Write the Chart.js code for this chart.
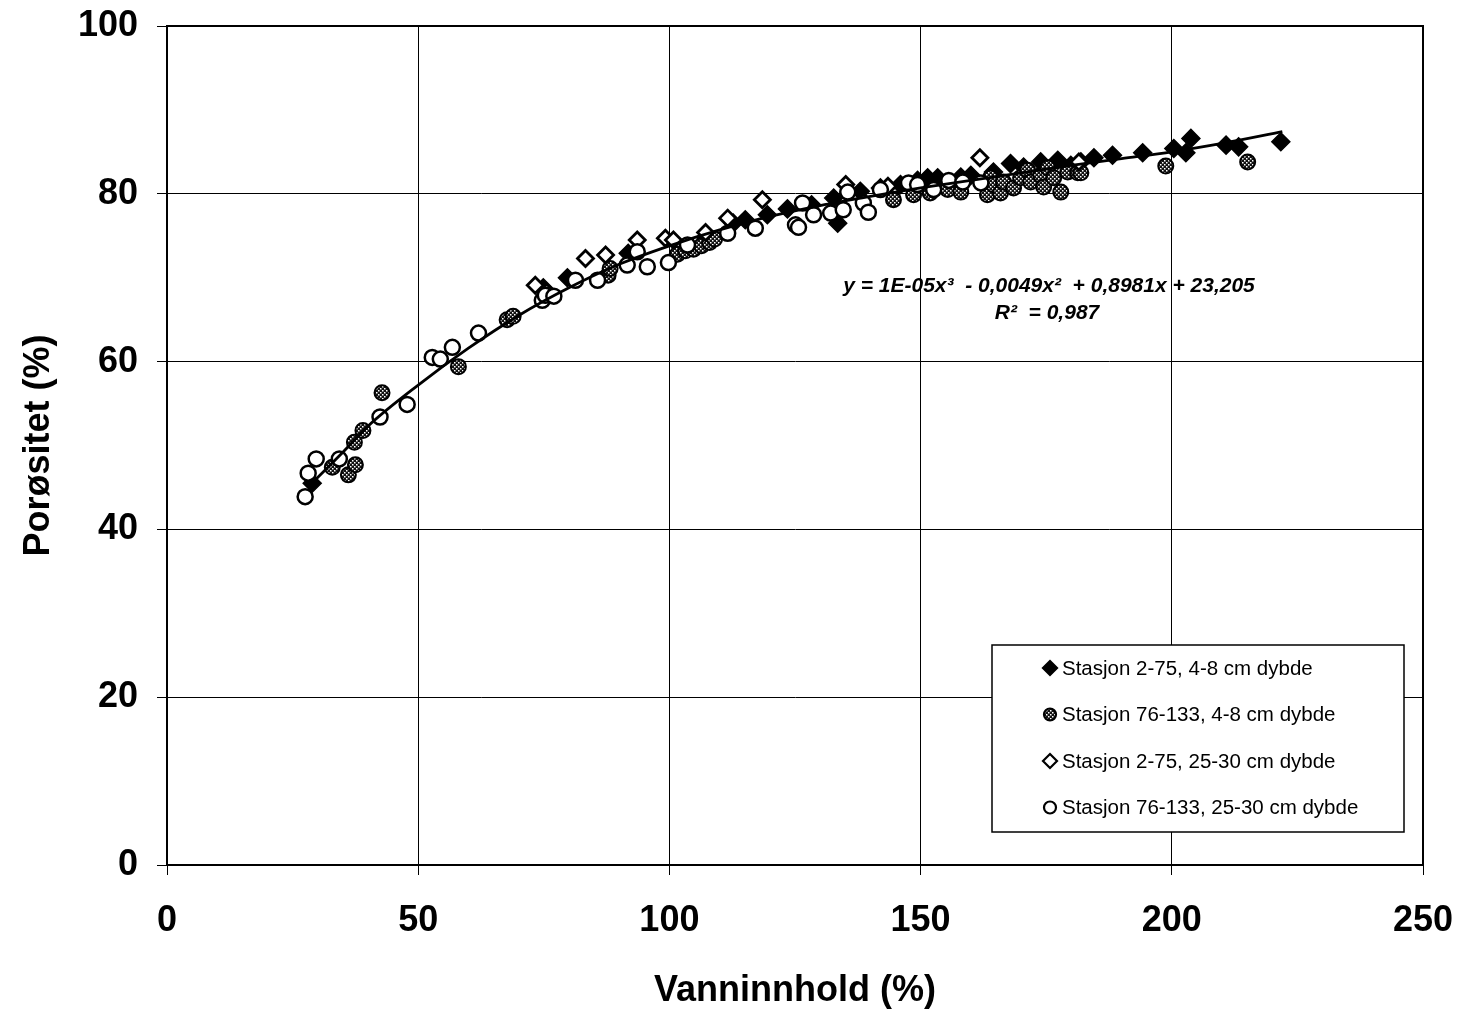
<!DOCTYPE html>
<html>
<head>
<meta charset="utf-8">
<script src="https://cdn.jsdelivr.net/npm/chart.js@4.4.1/dist/chart.umd.min.js"></script>
<style>
  html, body { margin: 0; padding: 0; background: #fff; }
  canvas { display: block; }
</style>
</head>
<body>
<canvas id="chart" width="1462" height="1013"></canvas>
<script>
// Vanninnhold (%) vs Porøsitet (%)
const st2_75_shallow = [
  [28.9, 45.5], [74.9, 68.8], [79.7, 70.0], [91.8, 72.9], [107.2, 74.8], [112.7, 76.5],
  [115.1, 76.9], [119.5, 77.5], [123.5, 78.2], [128.3, 78.7], [132.7, 79.5], [133.5, 76.5],
  [138.0, 80.3], [142.0, 80.7], [146.0, 81.1], [149.4, 81.6], [151.4, 81.9], [153.4, 81.9],
  [158.0, 82.0], [160.0, 82.2], [164.5, 82.6], [167.9, 83.6], [170.5, 83.2], [173.9, 83.8],
  [177.3, 84.0], [179.9, 83.4], [181.9, 83.8], [184.5, 84.3], [188.2, 84.6], [194.2, 84.9],
  [200.4, 85.4], [202.8, 84.9], [203.8, 86.6], [210.8, 85.8], [213.3, 85.6], [221.7, 86.2],
];
const st76_133_shallow = [
  [32.9, 47.4], [36.1, 46.5], [37.5, 47.7], [37.3, 50.4], [39.0, 51.8], [42.8, 56.3],
  [58.0, 59.4], [67.7, 65.0], [68.9, 65.4], [75.3, 68.2], [87.8, 70.3], [88.2, 71.1],
  [101.6, 72.8], [103.2, 73.2], [104.8, 73.4], [106.4, 73.8], [108.0, 74.2], [109.0, 74.6],
  [144.6, 79.3], [148.6, 79.9], [151.9, 80.1], [155.4, 80.5], [158.0, 80.2], [163.3, 79.9],
  [163.9, 81.9], [164.5, 81.1], [165.9, 80.1], [166.5, 81.4], [168.5, 80.7], [169.9, 81.9],
  [171.3, 82.8], [171.9, 81.4], [173.9, 82.2], [174.5, 80.8], [175.3, 83.1], [176.5, 81.9],
  [177.9, 80.2], [179.3, 82.6], [181.3, 82.5], [181.9, 82.5], [198.8, 83.3], [215.1, 83.8],
];
const st2_75_deep = [
  [73.3, 69.1], [83.3, 72.3], [87.3, 72.7], [93.6, 74.5], [99.2, 74.7], [100.8, 74.5],
  [107.2, 75.4], [111.6, 77.1], [118.5, 79.3], [135.1, 81.1], [143.5, 80.9], [161.8, 84.3],
  [181.5, 83.8],
];
const st76_133_deep = [
  [27.5, 43.9], [28.1, 46.7], [29.7, 48.4], [34.3, 48.4], [42.4, 53.4], [47.8, 54.9],
  [52.8, 60.5], [54.4, 60.3], [56.8, 61.7], [62.0, 63.4], [74.7, 67.3], [75.3, 67.9],
  [77.0, 67.8], [81.3, 69.7], [85.7, 69.7], [91.6, 71.5], [93.6, 73.1], [95.6, 71.3],
  [99.8, 71.8], [103.6, 73.9], [111.6, 75.3], [117.1, 75.9], [125.1, 76.3], [125.7, 76.0],
  [126.5, 78.9], [128.7, 77.5], [132.1, 77.7], [134.6, 78.1], [135.5, 80.2], [138.6, 78.9],
  [139.6, 77.8], [142.0, 80.5], [147.6, 81.3], [149.4, 81.1], [152.6, 80.5], [155.6, 81.6],
  [158.4, 81.4], [162.0, 81.3],
];
// trend curve
const trend = [
  [28, 45.0], [35, 49.2], [40, 52.3], [50, 57.2], [60, 61.6], [70, 65.5], [80, 68.8],
  [90, 71.6], [100, 73.8], [110, 75.7], [120, 77.3], [130, 78.6], [140, 79.7], [150, 80.7],
  [160, 81.6], [170, 82.5], [180, 83.4], [190, 84.2], [200, 85.0], [210, 86.0], [222, 87.4],
];
const series_labels = [
  "Stasjon 2-75, 4-8 cm dybde",
  "Stasjon 76-133, 4-8 cm dybde",
  "Stasjon 2-75, 25-30 cm dybde",
  "Stasjon 76-133, 25-30 cm dybde",
];
const equation_lines = ["y = 1E-05x\u00b3  - 0,0049x\u00b2  + 0,8981x + 23,205", "R\u00b2  = 0,987"];
const x_ticks = [0, 50, 100, 150, 200, 250];
const y_ticks = [0, 20, 40, 60, 80, 100];

const FONT = "'Liberation Sans', Arial, sans-serif";
Chart.defaults.font.family = FONT;
Chart.defaults.color = "#000";

function dotted_fill() {
  const tile = document.createElement("canvas");
  tile.width = 4;
  tile.height = 4;
  const c = tile.getContext("2d");
  c.fillStyle = "#111";
  c.fillRect(0, 0, 4, 4);
  c.fillStyle = "#fff";
  c.fillRect(0, 0, 1.5, 1.5);
  c.fillRect(2, 2, 1.5, 1.5);
  return c.createPattern(tile, "repeat");
}

const to_xy = (arr) => arr.map(([x, y]) => ({ x, y }));

const frame_plugin = {
  id: "frame",
  afterDatasetsDraw(chart) {
    const { ctx, chartArea: a } = chart;
    ctx.save();
    ctx.strokeStyle = "#000";
    ctx.lineWidth = 2;
    ctx.strokeRect(a.left, a.top, a.right - a.left, a.bottom - a.top);

    // trendline equation
    ctx.font = "italic bold 21px " + FONT;
    ctx.textAlign = "center";
    ctx.textBaseline = "middle";
    ctx.fillStyle = "#000";
    ctx.fillText(equation_lines[0], 1049, 286);
    ctx.fillText(equation_lines[1], 1047, 313);

    // legend box
    const box = { left: 992, top: 645, right: 1404, bottom: 832 };
    ctx.fillStyle = "#fff";
    ctx.fillRect(box.left, box.top, box.right - box.left, box.bottom - box.top);
    ctx.lineWidth = 1.5;
    ctx.strokeRect(box.left, box.top, box.right - box.left, box.bottom - box.top);
    ctx.font = "20.5px " + FONT;
    ctx.textAlign = "left";
    series_labels.forEach((label, i) => {
      const ds = chart.data.datasets[i];
      const y = 668 + i * 46.5;
      const x = 1050;
      ctx.beginPath();
      if (ds.pointStyle === "rectRot") {
        const r = 7;
        ctx.moveTo(x, y - r);
        ctx.lineTo(x + r, y);
        ctx.lineTo(x, y + r);
        ctx.lineTo(x - r, y);
        ctx.closePath();
      } else {
        ctx.arc(x, y, 6, 0, Math.PI * 2);
      }
      ctx.fillStyle = ds.backgroundColor;
      ctx.fill();
      ctx.lineWidth = 2.2;
      ctx.strokeStyle = "#000";
      ctx.stroke();
      ctx.fillStyle = "#000";
      ctx.fillText(label, 1062, y + 1);
    });
    ctx.restore();
  },
};

const point_sets = [st2_75_shallow, st76_133_shallow, st2_75_deep, st76_133_deep];
const styles = [
  { pointStyle: "rectRot", backgroundColor: "#000", radius: 9, borderWidth: 1.5 },
  { pointStyle: "circle", backgroundColor: dotted_fill(), radius: 7.5, borderWidth: 2 },
  { pointStyle: "rectRot", backgroundColor: "#fff", radius: 8, borderWidth: 2.8 },
  { pointStyle: "circle", backgroundColor: "#fff", radius: 7.5, borderWidth: 2.5 },
];

const datasets = point_sets.map((pts, i) => ({
  label: series_labels[i],
  data: to_xy(pts),
  pointStyle: styles[i].pointStyle,
  backgroundColor: styles[i].backgroundColor,
  pointBackgroundColor: styles[i].backgroundColor,
  pointBorderColor: "#000",
  pointBorderWidth: styles[i].borderWidth,
  pointRadius: styles[i].radius,
  showLine: false,
  order: 5 - i,
}));
datasets.push({
  label: "trend",
  data: to_xy(trend),
  showLine: true,
  borderColor: "#000",
  borderWidth: 2.8,
  pointRadius: 0,
  tension: 0.4,
  cubicInterpolationMode: "monotone",
  order: 0,
});

const tick_font = { size: 36, weight: "bold", family: FONT };

new Chart(document.getElementById("chart"), {
  type: "scatter",
  data: { datasets },
  options: {
    responsive: false,
    animation: false,
    layout: { padding: { top: 26, right: 39, left: 0, bottom: 0 } },
    plugins: { legend: { display: false }, tooltip: { enabled: false } },
    scales: {
      x: {
        type: "linear",
        min: 0,
        max: 250,
        afterBuildTicks: (s) => { s.ticks = x_ticks.map((v) => ({ value: v })); },
        afterFit: (s) => { s.height = 148; s.paddingLeft = 0; s.paddingRight = 0; },
        ticks: { font: tick_font, color: "#000", padding: 24, maxRotation: 0 },
        grid: { color: "#000", lineWidth: 1, tickLength: 10 },
        border: { color: "#000", width: 2 },
        title: {
          display: true,
          text: "Vanninnhold (%)",
          font: { size: 36, weight: "bold", family: FONT },
          color: "#000",
          padding: { top: 0, bottom: 0 },
        },
      },
      y: {
        type: "linear",
        min: 0,
        max: 100,
        afterBuildTicks: (s) => { s.ticks = y_ticks.map((v) => ({ value: v })); },
        afterFit: (s) => { s.width = 167; s.paddingTop = 0; s.paddingBottom = 0; },
        ticks: { font: tick_font, color: "#000", padding: 19 },
        grid: { color: "#000", lineWidth: 1, tickLength: 10 },
        border: { color: "#000", width: 2 },
        title: {
          display: true,
          text: "Porøsitet (%)",
          font: { size: 36, weight: "bold", family: FONT },
          color: "#000",
          padding: { top: 17, bottom: 0 },
        },
      },
    },
  },
  plugins: [frame_plugin],
});
</script>
</body>
</html>
